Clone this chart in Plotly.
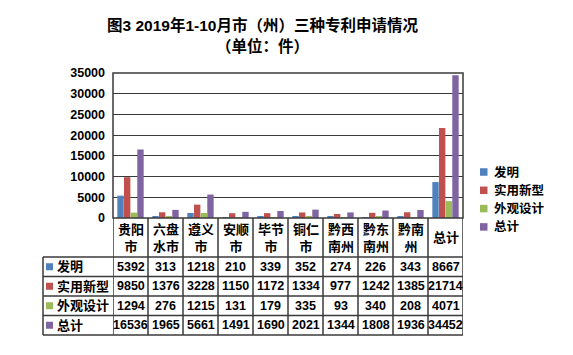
import plotly.graph_objects as go

categories = ["贵阳<br>市", "六盘<br>水市", "遵义<br>市", "安顺<br>市", "毕节<br>市", "铜仁<br>市", "黔西<br>南州", "黔东<br>南州", "黔南<br>州", "总计"]
series_names = ["发明", "实用新型", "外观设计", "总计"]
invention = [5392, 313, 1218, 210, 339, 352, 274, 226, 343, 8667]
utility = [9850, 1376, 3228, 1150, 1172, 1334, 977, 1242, 1385, 21714]
design = [1294, 276, 1215, 131, 179, 335, 93, 340, 208, 4071]
total = [16536, 1965, 5661, 1491, 1690, 2021, 1344, 1808, 1936, 34452]
colors = ["#4F81BD", "#C0504D", "#9BBB59", "#8064A2"]
y_ticks = [0, 5000, 10000, 15000, 20000, 25000, 30000, 35000]

series = [invention, utility, design, total]
FONT = "Liberation Sans, Arial, Noto Sans CJK SC, sans-serif"

OFF = 8  # browser body margin
W, H = 573 - OFF, 355 - OFF
L, R, T, B = 113 - OFF, 463 - OFF, 73 - OFF, 218 - OFF
PW, PH = R - L, B - T
def xp(px):
    return (px - OFF - L) / PW
def yp(py):
    return (B - (py - OFF)) / PH

xs = list(range(len(categories)))
fig = go.Figure()
for name, vals, c in zip(series_names, series, colors):
    fig.add_trace(go.Bar(x=xs, y=vals, name=name, showlegend=False,
                         marker=dict(color=c, line=dict(width=0))))

line_col = "#3a3a3a"
shapes = []
ann = []
row_edges = [257, 276.5, 296, 315.5, 335]
table_left = 43
for yy in row_edges:
    shapes.append(dict(type="line", xref="paper", yref="paper", x0=xp(table_left), x1=1,
                       y0=yp(yy), y1=yp(yy), line=dict(color=line_col, width=1.5)))
n = len(categories)
for k in range(n + 1):
    shapes.append(dict(type="line", xref="x", yref="paper", x0=k - 0.5, x1=k - 0.5,
                       y0=0, y1=yp(row_edges[-1]), line=dict(color=line_col, width=1.5)))
shapes.append(dict(type="line", xref="paper", yref="paper", x0=xp(table_left), x1=xp(table_left),
                   y0=yp(row_edges[0]), y1=yp(row_edges[-1]), line=dict(color=line_col, width=1.5)))
shapes.append(dict(type="rect", xref="paper", yref="paper", x0=0, x1=1, y0=0, y1=1,
                   line=dict(color=line_col, width=1.5)))

for k, cat in enumerate(categories):
    ann.append(dict(x=k, y=yp((218 + row_edges[0]) / 2), xref="x", yref="paper", text="<b>" + cat + "</b>",
                    showarrow=False, font=dict(size=13, color="black", family=FONT),
                    xanchor="center", yanchor="middle"))
for r, (name, vals, c) in enumerate(zip(series_names, series, colors)):
    yc = yp((row_edges[r] + row_edges[r + 1]) / 2)
    shapes.append(dict(type="rect", xref="paper", yref="paper", x0=xp(46), x1=xp(53),
                       y0=yc - 3.5 / PH, y1=yc + 3.5 / PH, fillcolor=c, line=dict(width=0)))
    ann.append(dict(x=xp(55), y=yc, xref="paper", yref="paper", text="<b>" + name + "</b>",
                    showarrow=False, font=dict(size=13, color="black", family=FONT),
                    xanchor="left", yanchor="middle"))
    for k, v in enumerate(vals):
        ann.append(dict(x=k, y=yc, xref="x", yref="paper", text="<b>" + str(v) + "</b>",
                        showarrow=False, font=dict(size=12.5, color="black", family=FONT),
                        xanchor="center", yanchor="middle"))

# legend (manual)
leg_y = [172, 190.3, 208.6, 226.9]
for name, c, ly in zip(series_names, colors, leg_y):
    shapes.append(dict(type="rect", xref="paper", yref="paper", x0=xp(480), x1=xp(487.5),
                       y0=yp(ly + 3.75), y1=yp(ly - 3.75), fillcolor=c, line=dict(width=0)))
    ann.append(dict(x=xp(492), y=yp(ly), xref="paper", yref="paper", text="<b>" + name + "</b>",
                    showarrow=False, font=dict(size=12.5, color="black", family=FONT),
                    xanchor="left", yanchor="middle"))

# title
ann.append(dict(x=xp(262), y=yp(25), xref="paper", yref="paper",
                text="<b>图3 2019年1-10月市（州）三种专利申请情况</b>", showarrow=False,
                font=dict(size=15.5, color="black", family=FONT), xanchor="center", yanchor="middle"))
ann.append(dict(x=xp(262), y=yp(46), xref="paper", yref="paper",
                text="<b>（单位：件）</b>", showarrow=False,
                font=dict(size=15.5, color="black", family=FONT), xanchor="center", yanchor="middle"))

fig.update_layout(
    width=W, height=H,
    margin=dict(l=L, r=W - R, t=T, b=H - B),
    paper_bgcolor="white", plot_bgcolor="white",
    barmode="group", bargap=0.24, bargroupgap=0.04,
    font=dict(family=FONT, color="black"),
    showlegend=False,
    xaxis=dict(range=[-0.5, n - 0.5], showticklabels=False, showgrid=False, zeroline=False,
               ticks="", fixedrange=True),
    yaxis=dict(range=[0, 35000], tickvals=y_ticks, ticktext=["<b>%d</b>" % t for t in y_ticks],
               showgrid=True, gridcolor=line_col, gridwidth=1.2, zeroline=False,
               tickfont=dict(size=12.5, color="black", family=FONT), ticks="", ticklen=0,
               ticklabelstandoff=7),
    shapes=shapes, annotations=ann,
)
fig.write_html("out.html")
